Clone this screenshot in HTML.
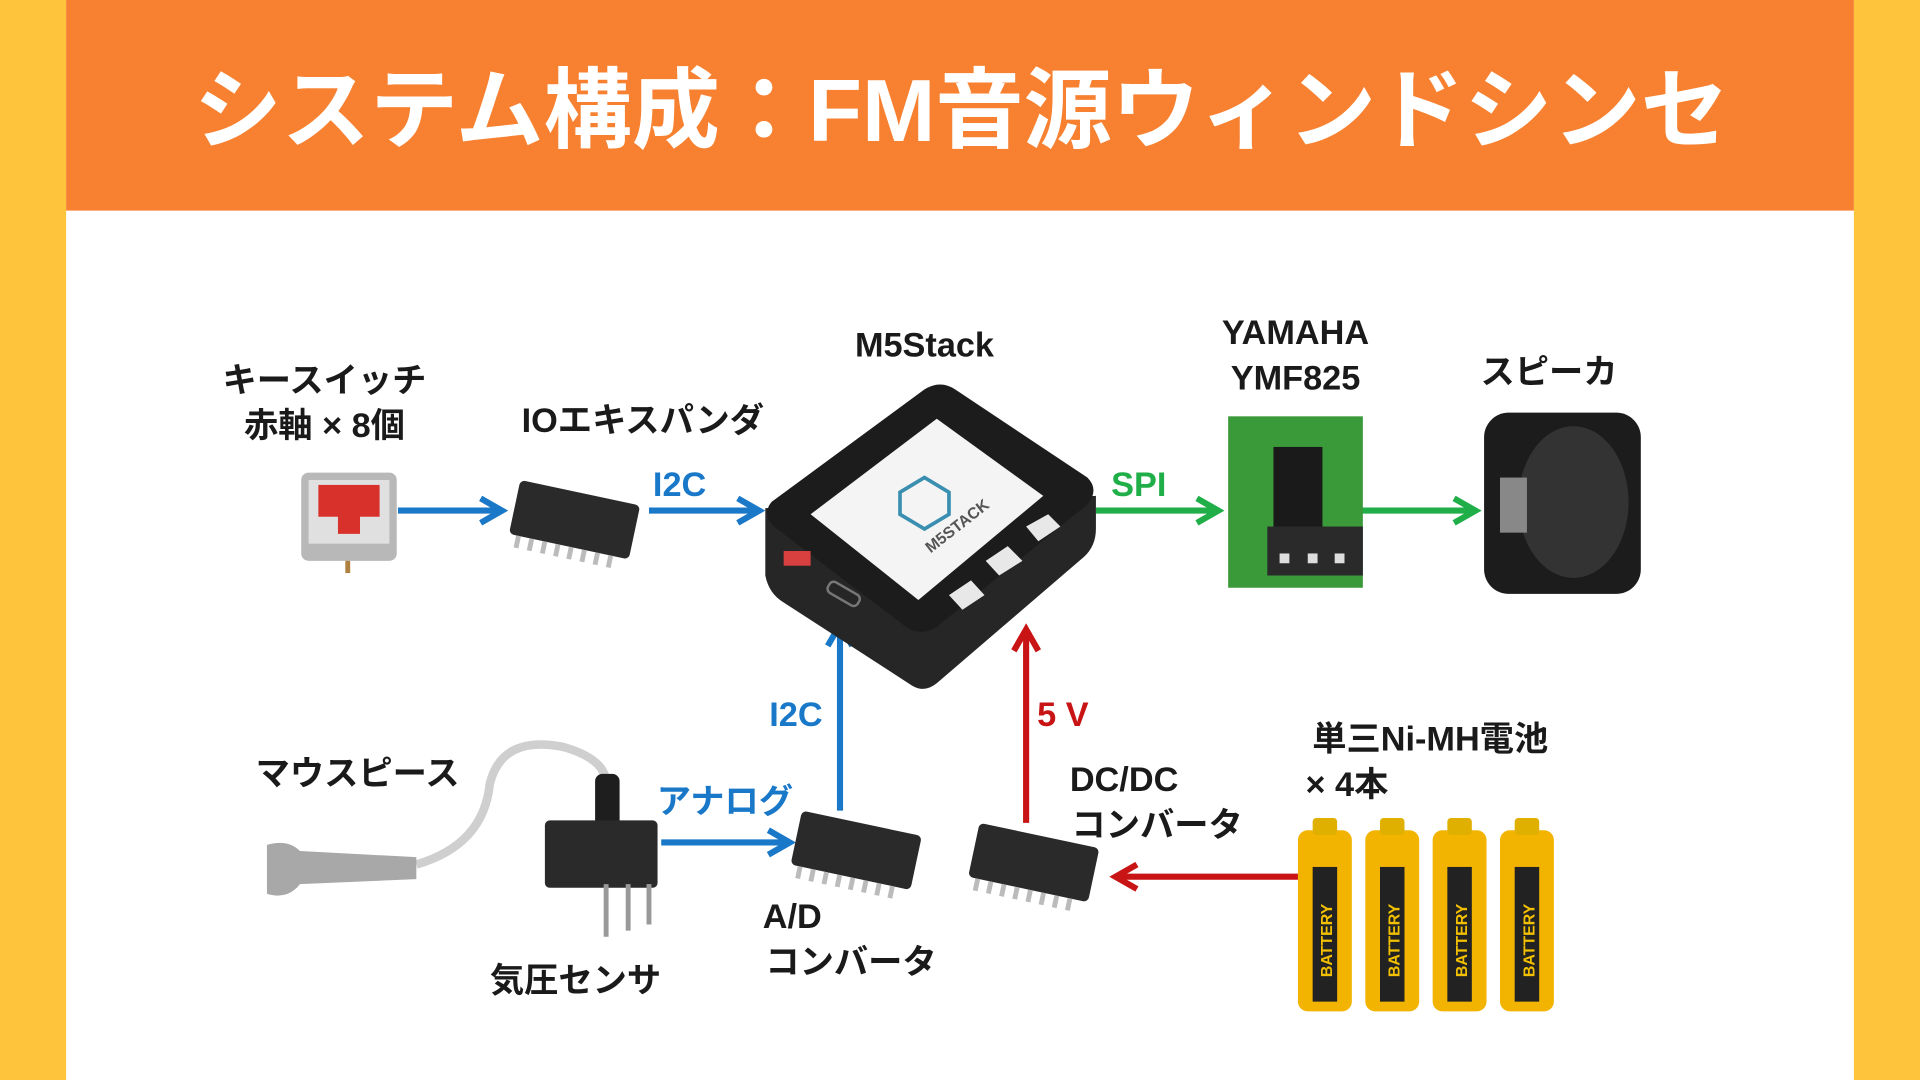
<!DOCTYPE html>
<html><head><meta charset="utf-8"><style>
html,body{margin:0;padding:0;width:1920px;height:1080px;overflow:hidden;background:#fff}
svg{display:block}
text{font-family:"Liberation Sans","Noto Sans CJK JP",sans-serif;font-weight:bold}
</style></head><body>
<svg width="1920" height="1080" viewBox="0 0 1568 882" xmlns="http://www.w3.org/2000/svg">
<defs>
<marker id="ab" viewBox="0 0 10 10" refX="8" refY="5" markerWidth="5" markerHeight="5" orient="auto"><path d="M1 1 L8 5 L1 9" fill="none" stroke="#1a78c8" stroke-width="2"/></marker>
<marker id="ag" viewBox="0 0 10 10" refX="8" refY="5" markerWidth="5" markerHeight="5" orient="auto"><path d="M1 1 L8 5 L1 9" fill="none" stroke="#1fae48" stroke-width="2"/></marker>
<marker id="ar" viewBox="0 0 10 10" refX="8" refY="5" markerWidth="5" markerHeight="5" orient="auto"><path d="M1 1 L8 5 L1 9" fill="none" stroke="#c81414" stroke-width="2"/></marker>
<g id="chip">
<rect x="0" y="0" width="100" height="45" rx="4" fill="#2a2a2a"/>
<g fill="#bbb"><rect x="6" y="45" width="4" height="10"/><rect x="17" y="45" width="4" height="10"/><rect x="28" y="45" width="4" height="10"/><rect x="39" y="45" width="4" height="10"/><rect x="50" y="45" width="4" height="10"/><rect x="61" y="45" width="4" height="10"/><rect x="72" y="45" width="4" height="10"/><rect x="83" y="45" width="4" height="10"/></g>
</g>
<g id="bat">
<rect x="0" y="10" width="44" height="148" rx="8" fill="#f2b400"/>
<rect x="12" y="0" width="20" height="14" rx="3" fill="#e0b000"/>
<rect x="12" y="40" width="20" height="110" fill="#222"/>
<text transform="translate(28,130) rotate(-90)" font-size="13" fill="#f2c000">BATTERY</text>
</g>
</defs>
<rect width="1568" height="882" fill="#fff"/>
<rect x="0" y="0" width="54" height="882" fill="#fec43c"/>
<rect x="1514" y="0" width="54" height="882" fill="#fec43c"/>
<rect x="54" y="0" width="1460" height="172" fill="#f78130"/>
<text x="785" y="115" text-anchor="middle" font-size="72" fill="#fff">システム構成：FM音源ウィンドシンセ</text>

<g font-size="28" fill="#1a1a1a" text-anchor="middle">
<text x="265" y="320">キースイッチ</text>
<text x="265" y="357">赤軸 × 8個</text>
<text x="525" y="353">IOエキスパンダ</text>
<text x="755" y="291">M5Stack</text>
<text x="1058" y="281">YAMAHA</text>
<text x="1058" y="318">YMF825</text>
<text x="1265" y="313">スピーカ</text>
<text x="292" y="641">マウスピース</text>
<text x="470" y="810">気圧センサ</text>
<text x="647" y="758">A/D</text>
<text x="695" y="795">コンバータ</text>
<text x="918" y="646">DC/DC</text>
<text x="945" y="683">コンバータ</text>
<text x="1168" y="613">単三Ni-MH電池</text>
<text x="1100" y="650">× 4本</text>
</g>
<g font-size="28" text-anchor="middle">
<text x="555" y="405" fill="#1a78c8">I2C</text>
<text x="650" y="593" fill="#1a78c8">I2C</text>
<text x="592" y="664" fill="#1a78c8">アナログ</text>
<text x="930" y="405" fill="#1fae48">SPI</text>
<text x="868" y="593" fill="#c81414">5 V</text>
</g>

<g stroke-width="5" fill="none">
<line x1="325" y1="417" x2="410" y2="417" stroke="#1a78c8" marker-end="url(#ab)"/>
<line x1="530" y1="417" x2="620" y2="417" stroke="#1a78c8" marker-end="url(#ab)"/>
<line x1="686" y1="662" x2="686" y2="510" stroke="#1a78c8" marker-end="url(#ab)"/>
<line x1="540" y1="688" x2="645" y2="688" stroke="#1a78c8" marker-end="url(#ab)"/>
<line x1="895" y1="417" x2="995" y2="417" stroke="#1fae48" marker-end="url(#ag)"/>
<line x1="1112" y1="417" x2="1205" y2="417" stroke="#1fae48" marker-end="url(#ag)"/>
<line x1="838" y1="672" x2="838" y2="514" stroke="#c81414" marker-end="url(#ar)"/>
<line x1="1060" y1="716" x2="911" y2="716" stroke="#c81414" marker-end="url(#ar)"/>
</g>

<!-- keyswitch -->
<rect x="246" y="386" width="78" height="72" rx="6" fill="#b8b8b8"/>
<rect x="252" y="392" width="66" height="52" fill="#e0e0e0"/>
<rect x="260" y="396" width="50" height="26" fill="#d8302a"/>
<rect x="276" y="410" width="18" height="26" fill="#d8302a"/>
<rect x="282" y="458" width="4" height="10" fill="#b08040"/>

<use href="#chip" transform="translate(425,392) rotate(12)"/>
<use href="#chip" transform="translate(655,662) rotate(12)"/>
<use href="#chip" transform="translate(800,672) rotate(12)"/>

<!-- M5Stack -->
<path d="M625 415 L625 470 Q628 485 640 492 L745 560 Q755 566 765 558 L885 455 Q895 446 895 432 L895 405 Z" fill="#262626"/>
<path d="M630 410 L755 318 Q768 310 780 318 L888 390 Q898 400 888 412 L765 512 Q752 520 740 512 L632 430 Q622 420 630 410 Z" fill="#1c1c1c"/>
<path d="M662 420 L765 342 L852 405 L750 490 Z" fill="#f4f4f4"/>
<path d="M735 402 L755 390 L775 402 L775 420 L755 432 L735 420 Z" fill="none" stroke="#3a8fb0" stroke-width="3"/>
<text transform="translate(760,452) rotate(-38)" font-size="13" fill="#555">M5STACK</text>
<g fill="#e8e8e8"><path d="M838 430 L856 420 L866 430 L848 442 Z"/><path d="M805 458 L823 446 L835 458 L816 470 Z"/><path d="M775 486 L793 474 L804 486 L786 498 Z"/></g>
<rect x="640" y="450" width="22" height="12" fill="#d84040"/>
<rect x="675" y="480" width="28" height="10" rx="4" fill="none" stroke="#777" stroke-width="2" transform="rotate(30 689 485)"/>

<!-- YMF825 -->
<rect x="1003" y="340" width="110" height="140" fill="#3a9a3a"/>
<rect x="1040" y="365" width="40" height="70" fill="#1a1a1a"/>
<rect x="1035" y="430" width="78" height="40" fill="#2a2a2a"/>
<g fill="#ddd"><rect x="1045" y="452" width="8" height="8"/><rect x="1068" y="452" width="8" height="8"/><rect x="1090" y="452" width="8" height="8"/></g>

<!-- speaker -->
<rect x="1212" y="337" width="128" height="148" rx="20" fill="#1c1c1c"/>
<ellipse cx="1285" cy="410" rx="45" ry="62" fill="#333"/>
<rect x="1225" y="390" width="22" height="45" fill="#888"/>

<path d="M340 706 Q395 690 400 640 Q410 600 460 610 Q495 620 495 640" fill="none" stroke="#cfcfcf" stroke-width="7"/>
<path d="M218 690 Q235 685 245 695 L340 700 L340 718 L245 722 Q235 735 218 730 Z" fill="#a8a8a8"/>
<rect x="486" y="632" width="20" height="55" rx="6" fill="#1e1e1e"/>
<rect x="445" y="670" width="92" height="55" rx="4" fill="#2a2a2a"/>
<g stroke="#999" stroke-width="4"><line x1="495" y1="722" x2="495" y2="765"/><line x1="513" y1="722" x2="513" y2="760"/><line x1="530" y1="722" x2="530" y2="755"/></g>

<use href="#bat" transform="translate(1060,668)"/>
<use href="#bat" transform="translate(1115,668)"/>
<use href="#bat" transform="translate(1170,668)"/>
<use href="#bat" transform="translate(1225,668)"/>
</svg>
</body></html>
